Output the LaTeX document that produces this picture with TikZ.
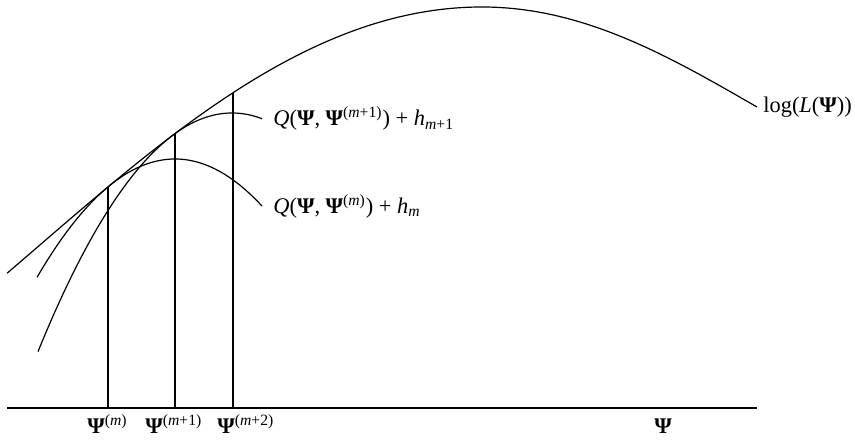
\documentclass[tikz,border=0pt]{standalone}
\usepackage{fontspec}
\setmainfont{Liberation Serif}
\usetikzlibrary{positioning}

\newcommand{\bPsi}{\textbf{Ψ}}
\newcommand{\iter}[1]{\textsuperscript{(#1)}}

\begin{document}
\begin{tikzpicture}[
    x=0.5pt,
    y=0.5pt,
    declare function={
      loglik(\t) = (\t<482) ? (437-14.6*((482-\t)/100)^2+0.124*((482-\t)/100)^4)
                            : (437-16*((\t-482)/100)^2+0.367*((\t-482)/100)^4);
      qm(\t) = 285-0.6215*((\t-175)/10)^2;
      qn(\t) = 331-0.634*((\t-232)/10)^2;
    },
    curve/.style={draw=black, line width=0.6pt},
    iterline/.style={draw=black, line width=1pt},
    axisline/.style={draw=black, line width=0.8pt},
    label/.style={font=\fontsize{11.2}{13}\selectfont, inner sep=0pt}
  ]
    \useasboundingbox (0,0) rectangle (855,444);

    % axis
    \coordinate (axl) at (7,36);
    \coordinate (axr) at (757,36);
    \draw[axisline] (axl) -- (axr);

    % log-likelihood and the two lower bounds
    \coordinate (lend) at (757,{loglik(757)});
    \coordinate (qmend) at (262,{qm(262)});
    \coordinate (qnend) at (262,{qn(262)});
    \draw[curve] plot[domain=7:757, samples=151, smooth] (\x,{loglik(\x)});
    \draw[curve] plot[domain=37:262, samples=46, smooth] (\x,{qm(\x)});
    \draw[curve] plot[domain=38:262, samples=46, smooth] (\x,{qn(\x)});

    % iterates
    \foreach \i/\px in {0/108, 1/175, 2/233} {
      \coordinate (foot\i) at (\px,36);
      \coordinate (touch\i) at (\px,{loglik(\px)});
      \draw[iterline] (foot\i) -- (touch\i);
    }

    \node[label, right=3pt of lend, anchor=west] (loglab) {log(\textit{L}(\bPsi))};
    \node[label, right=5.5pt of qnend, anchor=west] (qnlab)
      {\textit{Q}(\bPsi, \bPsi\iter{\textit{m}+1}) + \textit{h}\textsubscript{\textit{m}+1}};
    \node[label, right=5.5pt of qmend, anchor=west] (qmlab)
      {\textit{Q}(\bPsi, \bPsi\iter{\textit{m}}) + \textit{h}\textsubscript{\textit{m}}};

    \node[label, anchor=base west] (psi0) at (87,11) {\bPsi\iter{\textit{m}}};
    \node[label, anchor=base west] (psi1) at (145,11) {\bPsi\iter{\textit{m}+1}};
    \node[label, anchor=base west] (psi2) at (217,11) {\bPsi\iter{\textit{m}+2}};
    \node[label, anchor=base] (psi) at (663,11) {\bPsi};
  \end{tikzpicture}
\end{document}
